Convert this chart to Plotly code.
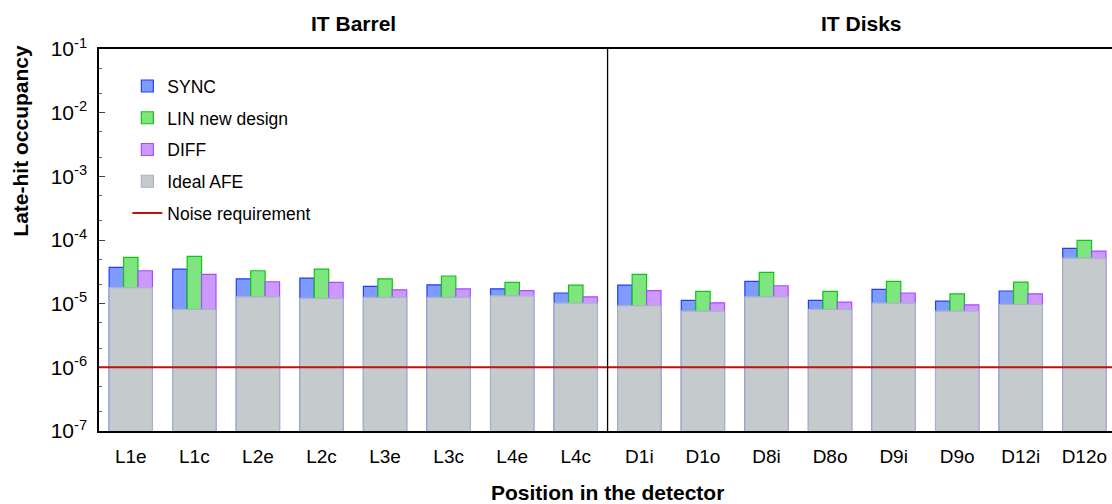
import plotly.graph_objects as go

# ==========================
# DATA
# ==========================

positions = [
    "L1e", "L1c", "L2e", "L2c", "L3e", "L3c", "L4e", "L4c",
    "D1i", "D1o", "D8i", "D8o", "D9i", "D9o", "D12i", "D12o"
]

sync = [3.72e-5, 3.50e-5, 2.46e-5, 2.52e-5, 1.87e-5, 1.98e-5, 1.71e-5, 1.47e-5,
        1.96e-5, 1.13e-5, 2.24e-5, 1.13e-5, 1.68e-5, 1.10e-5, 1.58e-5, 7.41e-5]

lin_new = [5.35e-5, 5.55e-5, 3.29e-5, 3.50e-5, 2.46e-5, 2.72e-5, 2.16e-5, 1.96e-5,
           2.89e-5, 1.56e-5, 3.10e-5, 1.56e-5, 2.24e-5, 1.42e-5, 2.18e-5, 9.89e-5]

diff = [3.29e-5, 2.89e-5, 2.21e-5, 2.16e-5, 1.65e-5, 1.71e-5, 1.60e-5, 1.28e-5,
        1.60e-5, 1.03e-5, 1.91e-5, 1.06e-5, 1.47e-5, 9.6e-6, 1.43e-5, 6.71e-5]

ideal_afe = [1.78e-5, 8.13e-6, 1.28e-5, 1.21e-5, 1.26e-5, 1.26e-5, 1.33e-5, 1.02e-5,
             9.27e-6, 7.64e-6, 1.28e-5, 8.13e-6, 1.02e-5, 7.64e-6, 9.75e-6, 5.21e-5]

noise_requirement = 1e-6

y_tick_exponents = [-7, -6, -5, -4, -3, -2, -1]

# ==========================
# FIGURE
# ==========================

fig = go.Figure()

sub_width = 0.227

fig.add_trace(go.Bar(
    x=positions, y=sync, name="SYNC",
    width=sub_width, offset=-1.5 * sub_width,
    marker=dict(color="#7f9bff", line=dict(color="#1f3fff", width=1.2)),
    legendgroup="a"
))

fig.add_trace(go.Bar(
    x=positions, y=lin_new, name="LIN new design",
    width=sub_width, offset=-0.5 * sub_width,
    marker=dict(color="#7fe57f", line=dict(color="#12c412", width=1.2)),
    legendgroup="b"
))

fig.add_trace(go.Bar(
    x=positions, y=diff, name="DIFF",
    width=sub_width, offset=0.5 * sub_width,
    marker=dict(color="#cc99ff", line=dict(color="#a64dff", width=1.2)),
    legendgroup="c"
))

fig.add_trace(go.Bar(
    x=positions, y=ideal_afe, name="Ideal AFE",
    width=3 * sub_width, offset=-1.5 * sub_width,
    marker=dict(color="#c5cbcd", line=dict(color="#a9b1c6", width=1.2)),
    legendgroup="d"
))

# noise requirement line
fig.add_shape(
    type="line", xref="paper", x0=0, x1=1,
    y0=noise_requirement, y1=noise_requirement,
    line=dict(color="#c01010", width=2),
    showlegend=True, name="Noise requirement", legendgroup="e"
)

# barrel / disks divider
fig.add_shape(
    type="line", xref="x", yref="paper",
    x0=7.5, x1=7.5, y0=0, y1=1,
    line=dict(color="black", width=1.3)
)

fig.update_layout(
    width=1112,
    height=504,
    margin=dict(l=99, r=0, t=49, b=73, autoexpand=False),
    barmode="overlay",
    plot_bgcolor="white",
    paper_bgcolor="white",
    font=dict(family="Liberation Sans, Arial, sans-serif", color="black"),
    legend=dict(
        x=0.028, y=0.95, xanchor="left", yanchor="top",
        font=dict(size=17.5),
        traceorder="grouped",
        tracegroupgap=6,
        bgcolor="rgba(0,0,0,0)"
    ),
    annotations=[
        dict(text="<b>IT Barrel</b>", x=3.5, xref="x", y=1.068, yref="paper",
             xanchor="center", yanchor="middle",
             showarrow=False, font=dict(size=21)),
        dict(text="<b>IT Disks</b>", x=11.5, xref="x", y=1.068, yref="paper",
             xanchor="center", yanchor="middle",
             showarrow=False, font=dict(size=21)),
        dict(text="<b>Late-hit occupancy</b>", x=-0.077, xref="paper",
             y=0.76, yref="paper", textangle=-90, showarrow=False,
             xanchor="center", yanchor="middle",
             font=dict(size=21)),
        dict(text="<b>Position in the detector</b>", x=7.5, xref="x",
             y=-0.162, yref="paper", showarrow=False,
             xanchor="center", yanchor="middle", font=dict(size=21)),
    ]
)

fig.update_xaxes(
    range=[-0.5, 15.435],
    automargin=False,
    showline=True, linecolor="black", linewidth=1.5, mirror=True,
    ticks="", showgrid=False,
    tickfont=dict(size=19),
    ticklabelstandoff=7
)

fig.update_yaxes(
    type="log", range=[-7, -1],
    automargin=False,
    showline=True, linecolor="black", linewidth=1.5,
    ticks="inside", ticklen=6, tickcolor="#444",
    tickvals=[10 ** e for e in y_tick_exponents],
    ticktext=["10<sup>%d</sup>" % e for e in y_tick_exponents],
    tickfont=dict(size=21),
    minor=dict(ticks="inside", ticklen=3, tickcolor="#666", showgrid=False),
    showgrid=False, zeroline=False,
    ticklabelstandoff=6
)

# drop the default page margin so the figure fills the window
fig.write_html(
    "out.html",
    config={"displayModeBar": False},
    post_script="document.body.style.margin='0';document.body.style.overflow='hidden';"
)
